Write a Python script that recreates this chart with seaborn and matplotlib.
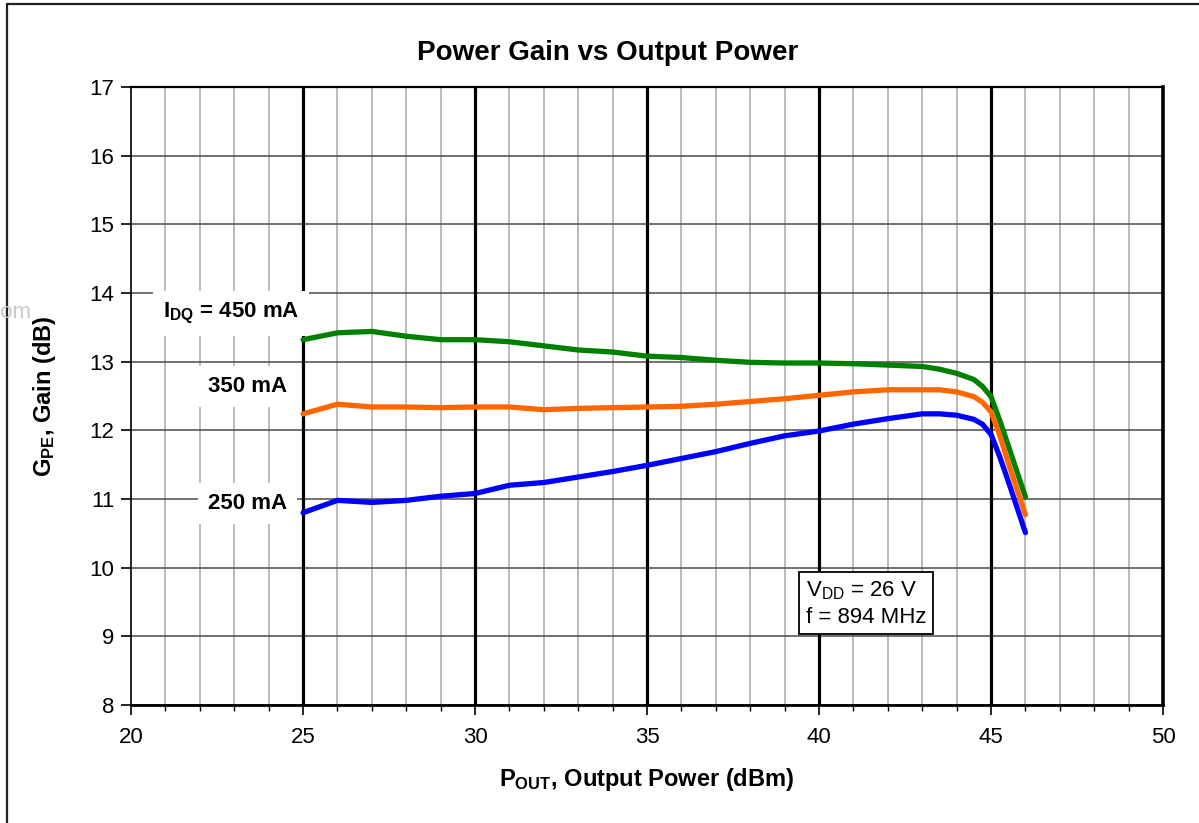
import pandas as pd
import matplotlib.pyplot as plt
import seaborn as sns

# dados (Pout em dBm, ganho em dB)
pout = [25, 26, 27, 28, 29, 30, 31, 32, 33, 34, 35, 36, 37, 38, 39, 40, 41, 42, 43,
        43.5, 44, 44.5, 44.75, 45, 45.25, 45.5, 46]
ganho_450 = [13.32, 13.42, 13.44, 13.37, 13.32, 13.32, 13.29, 13.23, 13.17, 13.14, 13.08,
             13.06, 13.02, 12.99, 12.98, 12.98, 12.97, 12.95, 12.93, 12.89, 12.83, 12.74,
             12.64, 12.49, 12.15, 11.78, 11.03]
ganho_350 = [12.24, 12.38, 12.34, 12.34, 12.33, 12.34, 12.34, 12.30, 12.32, 12.33, 12.34,
             12.35, 12.38, 12.42, 12.46, 12.51, 12.56, 12.59, 12.59, 12.59, 12.56, 12.49,
             12.41, 12.27, 11.93, 11.53, 10.77]
ganho_250 = [10.80, 10.98, 10.95, 10.98, 11.04, 11.08, 11.20, 11.24, 11.32, 11.40, 11.49,
             11.59, 11.69, 11.81, 11.92, 11.99, 12.09, 12.17, 12.24, 12.24, 12.22, 12.16,
             12.09, 11.94, 11.62, 11.26, 10.51]
series = ['450 mA', '350 mA', '250 mA']
cores = {'450 mA': '#008000', '350 mA': '#FF6600', '250 mA': '#0000FF'}

df = pd.DataFrame({
    'Pout': pout * 3,
    'Ganho': ganho_450 + ganho_350 + ganho_250,
    'IDQ': [s for s in series for _ in pout],
})

sns.set_style('white')
plt.rcParams['font.family'] = ['Liberation Sans', 'DejaVu Sans']
plt.rcParams['mathtext.fontset'] = 'custom'
plt.rcParams['mathtext.rm'] = 'Liberation Sans'
plt.rcParams['mathtext.bf'] = 'Liberation Sans:bold'
for chave in ['text.color', 'axes.labelcolor', 'xtick.color', 'ytick.color']:
    plt.rcParams[chave] = 'black'

fig = plt.figure(figsize=(11.99, 8.23), dpi=100)
ax = fig.add_axes([0.1093, 0.1434, 0.8607, 0.7509])

# grade
ax.set_xlim(20, 50)
ax.set_ylim(8, 17)
ax.set_xticks(range(20, 51, 5))
ax.set_xticks(range(20, 51, 1), minor=True)
ax.set_yticks(range(8, 18))
ax.grid(True, axis='x', which='minor', color='#a8a8a8', lw=1.1, zorder=0)
ax.grid(True, axis='y', which='major', color='#4a4a4a', lw=1.1, zorder=0)
ax.vlines([25, 30, 35, 40, 45], 8, 17, colors='black', lw=2.3, zorder=1)
ax.set_axisbelow(True)

sns.lineplot(data=df, x='Pout', y='Ganho', hue='IDQ', palette=cores, lw=3.8,
             legend=False, ax=ax, zorder=4)

for lado, lw in [('left', 1.2), ('bottom', 2.0), ('top', 1.6), ('right', 2.6)]:
    ax.spines[lado].set_visible(True)
    ax.spines[lado].set_color('black')
    ax.spines[lado].set_linewidth(lw)

ax.tick_params(axis='both', which='major', direction='out', length=7, width=1.2,
               labelsize=16, pad=5, color='black', left=True, bottom=True)
ax.tick_params(axis='x', which='minor', direction='out', length=4.5, width=1.0,
               color='black', bottom=True)
ax.tick_params(axis='x', pad=9)

fig.text(608 / 1199, 1 - 53 / 823, 'Power Gain vs Output Power', fontsize=20,
         fontweight='bold', ha='center', va='center')
ax.set_xlabel(r'$\mathbf{P_{OUT}}$, Output Power (dBm)', fontsize=17, fontweight='bold',
              labelpad=13)
ax.set_ylabel(r'$\mathbf{G_{PE}}$, Gain (dB)', fontsize=17, fontweight='bold', labelpad=23)

caixa = dict(facecolor='white', edgecolor='none', boxstyle='square,pad=0.45')
ax.text(22.9, 13.70, r'$\mathbf{I_{DQ}}$ = 450 mA', fontsize=16, fontweight='bold',
        ha='center', va='center', bbox=caixa, zorder=3)
ax.text(23.39, 12.645, '350 mA', fontsize=16, fontweight='bold',
        ha='center', va='center', bbox=caixa, zorder=3)
ax.text(23.39, 10.94, '250 mA', fontsize=16, fontweight='bold',
        ha='center', va='center', bbox=caixa, zorder=3)

ax.text(39.62, 9.48, 'V$_{\\mathrm{DD}}$ = 26 V\nf = 894 MHz', fontsize=16,
        ha='left', va='center', linespacing=1.3, zorder=5,
        bbox=dict(facecolor='white', edgecolor='black', lw=1.3, boxstyle='square,pad=0.3'))

# moldura e marca d'água
fig.text(31 / 1199, 1 - 313 / 823, 'com', fontsize=16, color='#c8c8c8',
         ha='right', va='center')
fig.add_artist(plt.Line2D([7 / 1199, 7 / 1199], [0, 1 - 4 / 823],
                          transform=fig.transFigure, color='#222222', lw=1.6))
fig.add_artist(plt.Line2D([7 / 1199, 1], [1 - 4 / 823, 1 - 4 / 823],
                          transform=fig.transFigure, color='#222222', lw=1.6))

fig.savefig('out.png', dpi=100)
